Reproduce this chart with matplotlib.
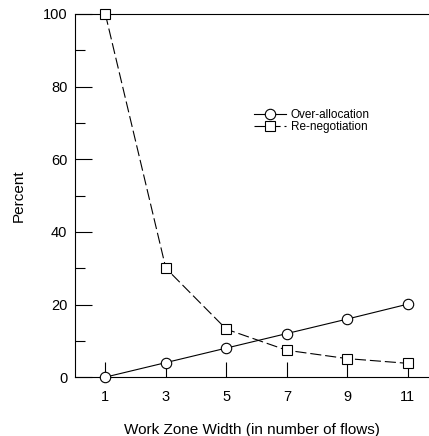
import matplotlib.pyplot as plt
import numpy as np

plt.rcParams['font.family'] = ['Liberation Sans', 'DejaVu Sans']

widths = [1, 3, 5, 7, 9, 11]
over_alloc = [0, 4, 8, 12, 16, 20.1]
renego = [100, 30, 13.2, 7.4, 5.1, 3.8]

fig = plt.figure(figsize=(4.29, 4.36), dpi=100)
ax = fig.add_axes([0.175, 0.135, 0.825, 0.833])

ax.plot(widths, over_alloc, color='black', lw=0.8, marker='o', ms=7.5,
        mfc='white', mec='black', mew=0.8, label='Over-allocation', clip_on=False, zorder=3)
ax.plot(widths, renego, color='black', lw=0.8, ls=(0, (10, 3.5)), marker='s', ms=7.5,
        mfc='white', mec='black', mew=0.8, label='Re-negotiation', clip_on=False, zorder=3)

ax.set_xlim(0, 11.7)
ax.set_ylim(0, 100)
ax.set_xticks(widths)
ax.set_yticks([0, 20, 40, 60, 80, 100])
ax.set_yticks([10, 30, 50, 70, 90], minor=True)
ax.tick_params(axis='both', which='both', direction='in', labelsize=10.5, width=0.8)
ax.tick_params(axis='y', which='major', length=12, pad=5.5)
ax.tick_params(axis='y', which='minor', length=7)
ax.tick_params(axis='x', length=11, pad=9)

ax.spines['right'].set_visible(False)
for s in ['left', 'bottom', 'top']:
    ax.spines[s].set_linewidth(0.8)

ax.set_xlabel('Work Zone Width (in number of flows)', fontsize=11, labelpad=14)
ax.set_ylabel('Percent', fontsize=11, labelpad=12)

ax.legend(loc='upper left', bbox_to_anchor=(0.49, 0.755), frameon=False, fontsize=8.5,
          handlelength=2.7, handletextpad=0.4, labelspacing=0.0, borderpad=0)

fig.savefig('out.png', dpi=100)
